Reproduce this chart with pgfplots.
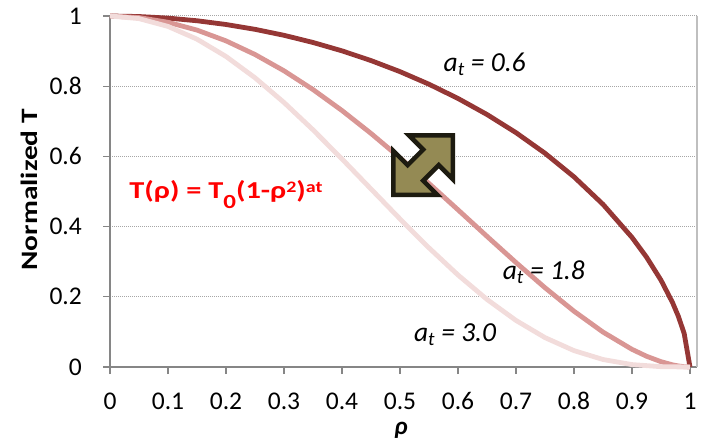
\documentclass[border=0pt]{standalone}
\usepackage{fontspec}
\setmainfont{Carlito}
\newfontfamily\widefont[FakeStretch=1.25]{Carlito}
\usepackage{pgfplots}
\pgfplotsset{compat=1.18}
\definecolor{cA}{HTML}{953735}
\definecolor{cB}{HTML}{D99694}
\definecolor{cC}{HTML}{F2DCDB}
\definecolor{arrowfill}{HTML}{948A54}
\definecolor{arrowline}{HTML}{1D1B10}
\definecolor{axgray}{HTML}{868686}
\definecolor{gridgray}{HTML}{A6A6A6}
\definecolor{bordergray}{HTML}{BFBFBF}
\begin{document}
\begin{tikzpicture}
\useasboundingbox (0pt,0pt) rectangle (706pt,447pt);
\begin{axis}[
  at={(110pt,80pt)}, anchor=south west,
  scale only axis, width=587pt, height=351pt,
  xmin=0, xmax=1.0121, ymin=0, ymax=1,
  xtick={0,0.1,0.2,0.3,0.4,0.5,0.6,0.7,0.8,0.9,1},
  ytick={0,0.2,0.4,0.6,0.8,1},
  axis x line*=bottom, axis y line*=left,
  axis line style={axgray, line width=1.2pt, -},
  tick align=outside, major tick length=7pt,
  tick style={axgray, line width=1.2pt},
  ymajorgrids,
  major grid style={gridgray, line width=1pt, dash pattern=on 1pt off 1pt},
  /pgf/number format/assume math mode=true,
  tick label style={font=\fontsize{25.5}{25.5}\selectfont, text=black},
  xticklabel style={anchor=base, inner sep=0pt, yshift=-35pt},
  yticklabel style={anchor=east, inner sep=0pt, xshift=-21pt},
  xlabel={\bfseries\itshape ρ},
  xlabel style={at={(axis description cs:0.4957,-0.1795)}, anchor=center, font=\fontsize{25}{25}\selectfont},
  ylabel={\bfseries Normalized T},
  ylabel style={at={(axis description cs:-0.137,0.505)}, anchor=center, font=\widefont\fontsize{23.5}{23.5}\selectfont},
  clip=false,
]
\addplot[cA, line width=4.8pt, line join=round] coordinates {
(0,1) (0.05,0.99850) (0.10,0.99399) (0.15,0.98644) (0.20,0.97580) (0.25,0.96202)
(0.30,0.94499) (0.35,0.92459) (0.40,0.90068) (0.45,0.87305) (0.50,0.84147)
(0.55,0.80561) (0.60,0.76508) (0.65,0.71934) (0.70,0.66764) (0.75,0.60896)
(0.80,0.54173) (0.85,0.46340) (0.90,0.36919) (0.925,0.31311) (0.95,0.24740)
(0.97,0.18321) (0.98,0.14408) (0.99,0.09535) (1.0,0)
};
\addplot[cB, line width=4.8pt, line join=round] coordinates {
(0,1) (0.05,0.99550) (0.10,0.98207) (0.15,0.95986) (0.20,0.92916) (0.25,0.89032)
(0.30,0.84387) (0.35,0.79040) (0.40,0.73064) (0.45,0.66545) (0.50,0.59581)
(0.55,0.52285) (0.60,0.44784) (0.65,0.37221) (0.70,0.29760) (0.75,0.22582)
(0.80,0.15898) (0.85,0.09951) (0.90,0.05032) (0.925,0.03070) (0.95,0.01514)
(0.97,0.00615) (0.98,0.00299) (0.99,0.00087) (1.0,0)
};
\addplot[cC, line width=4.8pt, line join=round] coordinates {
(0,1) (0.05,0.99252) (0.10,0.97030) (0.15,0.93401) (0.20,0.88474) (0.25,0.82397)
(0.30,0.75357) (0.35,0.67568) (0.40,0.59270) (0.45,0.50721) (0.50,0.42188)
(0.55,0.33934) (0.60,0.26214) (0.65,0.19260) (0.70,0.13265) (0.75,0.08374)
(0.80,0.04666) (0.85,0.02137) (0.90,0.00686) (0.95,0.00093) (1.0,0)
};
\draw[bordergray, line width=1.2pt] (rel axis cs:1,0) -- (rel axis cs:1,1);
\coordinate (ac) at (axis cs:0.540,0.575);
\node[font=\itshape\fontsize{27.5}{27.5}\selectfont] at (axis cs:0.646,0.862) {a\textsubscript{t} = 0.6};
\node[font=\itshape\fontsize{27.5}{27.5}\selectfont] at (axis cs:0.748,0.270) {a\textsubscript{t} = 1.8};
\node[font=\itshape\fontsize{27.5}{27.5}\selectfont] at (axis cs:0.595,0.093) {a\textsubscript{t} = 3.0};
\node[text=red, font=\widefont\bfseries\fontsize{24.3}{24.3}\selectfont] at (axis cs:0.200,0.492)
  {T(ρ) = T\raisebox{-10.5pt}{\fontsize{20}{20}\selectfont 0}(1-ρ\raisebox{6pt}{\fontsize{16}{16}\selectfont 2})\raisebox{6pt}{\fontsize{16}{16}\selectfont at}};
\end{axis}
\draw[line width=4.5pt, draw=arrowline, fill=arrowfill, miter limit=10, shift={(ac)}, rotate=45]
  (42pt,0pt) -- (11pt,31pt) -- (11pt,11pt) -- (-11pt,11pt) -- (-11pt,31pt) -- (-42pt,0pt)
  -- (-11pt,-31pt) -- (-11pt,-11pt) -- (11pt,-11pt) -- (11pt,-31pt) -- cycle;
\end{tikzpicture}
\end{document}
